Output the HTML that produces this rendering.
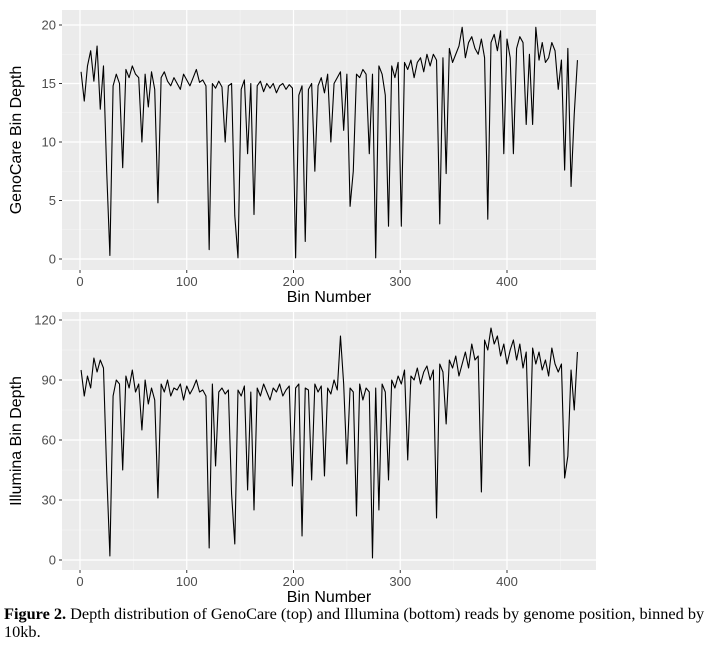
<!DOCTYPE html>
<html><head><meta charset="utf-8"><style>
body{margin:0;background:#fff;width:712px;height:658px;overflow:hidden;font-family:"Liberation Sans",sans-serif}
#cap{position:absolute;left:4px;top:605px;width:704px;font-family:"Liberation Serif",serif;font-size:16.3px;line-height:18px;color:#000}
</style></head><body>
<svg id="chart" width="712" height="658" style="position:absolute;left:0;top:0"></svg>
<div id="cap"><b>Figure 2.</b> Depth distribution of GenoCare (top) and Illumina (bottom) reads by genome position, binned by 10kb.</div>
<script>
const bins = [];
for (let b = 1; b <= 466; b += 3) bins.push(b);
const genocare = [16,13.5,16.5,17.8,15.2,18.2,12.8,16.5,7.5,0.3,
14.8,15.8,15,7.8,16.2,15.5,16.5,15.8,15.5,10,
15.8,13,16,14.5,4.8,15.5,16,15.2,14.8,15.5,
15,14.5,15.8,15.3,14.8,15.5,16.2,15.1,15.3,14.8,
0.8,15,14.6,15.2,14.7,10,14.8,15,3.7,0.1,
14.5,15.3,9,15,3.8,14.8,15.2,14.3,15,14.6,
15,14.2,14.8,15,14.5,14.9,14.6,0.1,14,14.8,
1.5,14.5,15,7.5,14.8,15.5,14.2,15.8,10,15,
15.5,16,11,15.8,4.5,7.5,15.8,15.5,16.2,15.8,
9,15.8,0.1,16.5,15.8,14,2.8,16.5,15.5,16.8,
2.8,16.8,16.2,17,15.5,16.8,17.2,16,17.5,16.5,
17.5,17,3,17.2,7.3,18,16.8,17.5,18.2,19.8,
17.2,18.5,19,18,17.5,18.8,17.2,3.4,18.5,19.2,
17.8,19.5,9,18.8,17.2,9,18,19,18.5,11.5,
17.5,11.5,19.8,17,18.5,16.8,17.2,18.5,17.8,14.5,
17,7.6,18,6.2,12.4,17];
const illumina = [95,82,92,86,101,94,100,96,44,2,
82,90,88,45,92,86,95,84,88,65,
90,78,86,80,31,88,84,90,82,86,
85,88,80,87,83,86,90,84,85,82,
6,88,47,84,86,83,85,33,8,85,
82,87,35,84,25,86,82,88,84,80,
86,84,88,82,85,87,37,86,88,12,
86,85,40,88,84,87,42,86,83,90,
85,112,88,48,86,84,22,88,80,86,
84,1,86,25,88,84,40,90,86,92,
88,95,50,92,90,96,88,94,97,90,
95,21,98,94,68,100,96,102,92,98,
104,96,108,100,102,34,110,105,116,108,
112,102,108,98,105,110,100,108,96,104,
47,106,98,104,95,100,92,106,98,94,
98,41,52,95,75,104];
const xTicks = [0,100,200,300,400];
const topTicks = [0,5,10,15,20];
const botTicks = [0,30,60,90,120];

const NS='http://www.w3.org/2000/svg';
const svg=document.getElementById('chart');
function mk(tag,attrs,parent){const e=document.createElementNS(NS,tag);for(const k in attrs)e.setAttribute(k,attrs[k]);(parent||svg).appendChild(e);return e;}
const L=62,R=596;
const xs=b=>80+(b)*1.0675;

function panel(key,top,bottom,yfn,ticks,minorStep,series,title){
  const g=mk('g',{});
  
  
  mk('rect',{x:L,y:top,width:R-L,height:bottom-top,fill:'#ebebeb'},g);
  for(let v=ticks[0]-minorStep;v<=ticks[ticks.length-1]+minorStep;v+=minorStep*2){const y=yfn(v);if(y>top&&y<bottom)mk('line',{x1:L,x2:R,y1:y,y2:y,stroke:'#f5f5f5','stroke-width':0.6},g);}
  for(let b=-50;b<=500;b+=100){const x=xs(b);if(x>L&&x<R)mk('line',{x1:x,x2:x,y1:top,y2:bottom,stroke:'#f5f5f5','stroke-width':0.6},g);}
  ticks.forEach(v=>{const y=yfn(v);mk('line',{x1:L,x2:R,y1:y,y2:y,stroke:'#fff','stroke-width':1.2},g);
    mk('line',{x1:L-3,x2:L,y1:y,y2:y,stroke:'#333','stroke-width':1},g);
    const t=mk('text',{x:L-6,y:y+4.5,'text-anchor':'end','font-size':13,fill:'#4d4d4d'},g);t.textContent=v;
    });
  xTicks.forEach(v=>{const x=xs(v);mk('line',{x1:x,x2:x,y1:top,y2:bottom,stroke:'#fff','stroke-width':1.2},g);
    mk('line',{x1:x,x2:x,y1:bottom,y2:bottom+3,stroke:'#333','stroke-width':1},g);
    const t=mk('text',{x:x,y:bottom+16,'text-anchor':'middle','font-size':13,fill:'#4d4d4d'},g);t.textContent=v;
    });
  const d=series.map((v,i)=>(i?'L':'M')+xs(bins[i]).toFixed(2)+','+yfn(v).toFixed(2)).join('');
  const p=mk('path',{d:d,fill:'none',stroke:'#000','stroke-width':1.1,'stroke-linejoin':'round'},g);
  
  const xt=mk('text',{x:(L+R)/2,y:bottom+32,'text-anchor':'middle','font-size':16,fill:'#000'},g);xt.textContent='Bin Number';
  
  const cy=(top+bottom)/2;
  const yt=mk('text',{x:21,y:cy,'text-anchor':'middle','font-size':16,fill:'#000',transform:'rotate(-90 21 '+cy+')'},g);yt.textContent=title;
  
}
panel('genocare',10,270,v=>259-v*11.7,topTicks,2.5,genocare,'GenoCare Bin Depth');
panel('illumina',312,570,v=>560-v*2,botTicks,15,illumina,'Illumina Bin Depth');
</script>
</body></html>
